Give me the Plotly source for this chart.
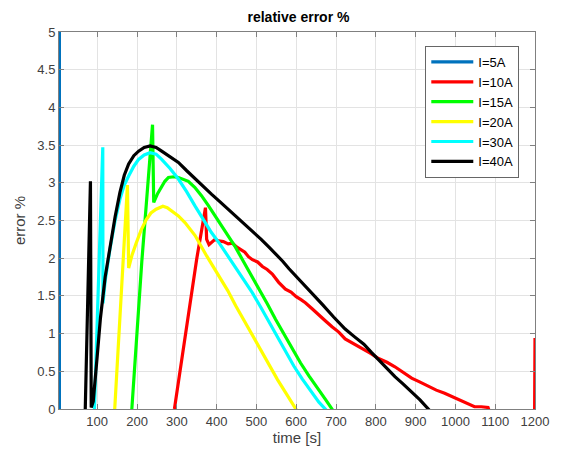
import plotly.graph_objects as go

# ---- data ----
t_5A = [5, 5]
e_5A = [-0.5, 6.0]

t_10A = [294, 320, 350, 372, 375, 381, 387, 396, 405, 417, 429, 440, 450, 460, 471, 480, 490, 503, 515, 527, 540,
         556, 573, 587, 600, 612, 623, 640, 657, 673, 690, 707, 723, 744, 765, 786, 807, 828, 848, 870, 890,
         910, 932, 952, 973, 994, 1015, 1032, 1048, 1065, 1082, 1090, 1199, 1200]
e_10A = [0, 0.93, 1.99, 2.67, 2.25, 2.18, 2.21, 2.25, 2.23, 2.22, 2.19, 2.20, 2.15, 2.12, 2.08, 2.02, 1.98, 1.95, 1.89, 1.85, 1.79,
         1.68, 1.59, 1.55, 1.49, 1.45, 1.41, 1.33, 1.24, 1.17, 1.09, 1.02, 0.93, 0.87, 0.80, 0.74, 0.67, 0.62, 0.56, 0.48, 0.41,
         0.36, 0.30, 0.25, 0.21, 0.16, 0.12, 0.07, 0.03, 0.03, 0.02, -0.1, -0.1, 0.94]

t_15A = [187, 212, 239, 242, 252, 262, 270, 279, 292, 304, 316, 329, 345, 362, 379, 396, 412, 429, 447, 465, 486, 507,
         528, 548, 569, 590, 611, 632, 652, 673, 690, 695]
e_15A = [0, 1.95, 3.77, 2.74, 2.86, 2.96, 3.02, 3.07, 3.08, 3.07, 3.05, 3.02, 2.94, 2.83, 2.70, 2.56, 2.43, 2.30, 2.15, 1.98, 1.79, 1.59,
         1.39, 1.19, 0.99, 0.79, 0.61, 0.44, 0.28, 0.13, 0, -0.05]

t_20A = [144, 176, 179, 188, 198, 210, 223, 235, 248, 265, 276, 287, 304, 321, 346, 375, 407, 428, 448, 469, 490, 511,
         532, 553, 573, 598, 605]
e_20A = [0, 2.97, 1.87, 2.05, 2.20, 2.37, 2.51, 2.60, 2.65, 2.69, 2.67, 2.63, 2.56, 2.47, 2.30, 2.03, 1.76, 1.57, 1.37, 1.17, 0.97, 0.77,
         0.57, 0.39, 0.22, 0, -0.05]

t_30A = [93, 114, 114.5, 120, 132, 145, 157, 168, 179, 192, 204, 218, 233, 248, 262, 283, 304, 325, 346, 366, 387, 408, 429,
         460, 490, 511, 532, 553, 573, 594, 615, 636, 657, 673, 680]
e_30A = [0, 3.47, 1.40, 1.70, 2.12, 2.50, 2.78, 2.97, 3.09, 3.22, 3.31, 3.37, 3.40, 3.38, 3.31, 3.19, 3.05, 2.88, 2.69, 2.52, 2.34, 2.19, 2.02,
         1.78, 1.54, 1.35, 1.15, 0.95, 0.75, 0.57, 0.40, 0.24, 0.09, 0, -0.05]

t_40A = [70, 83, 85, 90, 100, 108, 120, 132, 145, 157, 168, 179, 192, 204, 218, 233, 248, 262, 283, 304, 325, 346, 366, 387,
         408, 429, 450, 471, 492, 512, 531, 550, 566, 582, 598, 615, 640, 665, 694, 723, 746, 770, 789, 807, 828, 848,
         869, 890, 911, 932, 940]
e_40A = [0, 3.02, 0.02, 0.10, 0.70, 1.20, 1.75, 2.15, 2.55, 2.87, 3.10, 3.25, 3.36, 3.42, 3.47, 3.49, 3.47, 3.42, 3.35, 3.27, 3.16, 3.05, 2.95, 2.85,
         2.75, 2.65, 2.55, 2.45, 2.35, 2.25, 2.15, 2.05, 1.96, 1.86, 1.77, 1.68, 1.54, 1.39, 1.22, 1.06, 0.96, 0.86, 0.75, 0.65, 0.54, 0.43,
         0.33, 0.23, 0.12, 0, -0.05]

names = ["I=5A", "I=10A", "I=15A", "I=20A", "I=30A", "I=40A"]
colors = ["#0072BD", "#FF0000", "#00FF00", "#FFFF00", "#00FFFF", "#000000"]
series_t = [t_5A, t_10A, t_15A, t_20A, t_30A, t_40A]
series_e = [e_5A, e_10A, e_15A, e_20A, e_30A, e_40A]

x_ticks = list(range(100, 1201, 100))
y_ticks = [0, 0.5, 1, 1.5, 2, 2.5, 3, 3.5, 4, 4.5, 5]
y_tick_text = ["0", "0.5", "1", "1.5", "2", "2.5", "3", "3.5", "4", "4.5", "5"]

fig = go.Figure()
for n, c, tt, ee in zip(names, colors, series_t, series_e):
    fig.add_trace(go.Scatter(x=tt, y=ee, mode="lines", name=n,
                             line=dict(color=c, width=3.2)))

FONT = "Liberation Sans, Arial, sans-serif"
tick_font = dict(family=FONT, size=13, color="#404040")
label_font = dict(family=FONT, size=15, color="#404040")

fig.update_layout(
    width=561, height=455,
    margin=dict(l=59, r=23, t=32, b=45),
    paper_bgcolor="white", plot_bgcolor="white",
    font=dict(family=FONT, size=12, color="#262626"),
    title=dict(text="<b>relative error %</b>", x=0.532, xanchor="center",
               y=1 - 17 / 455, yanchor="middle",
               font=dict(family=FONT, size=14, color="#000000")),
    xaxis=dict(range=[4, 1200], tickvals=x_ticks, ticks="inside", ticklen=5,
               tickcolor="#808080", showline=True, linecolor="#808080", linewidth=1,
               mirror="ticks", showgrid=True, gridcolor="#e3e3e3", gridwidth=1,
               zeroline=False, tickfont=tick_font,
               title=dict(text="time [s]", font=label_font, standoff=4)),
    yaxis=dict(range=[0, 5], tickvals=y_ticks, ticktext=y_tick_text, ticks="inside", ticklen=5,
               tickcolor="#808080", showline=True, linecolor="#808080", linewidth=1,
               mirror="ticks", showgrid=True, gridcolor="#e3e3e3", gridwidth=1,
               zeroline=False, tickfont=tick_font,
               title=dict(text="error %", font=label_font, standoff=8)),
    legend=dict(x=0.967, xanchor="right", y=0.963, yanchor="top",
                bgcolor="white", bordercolor="#666666", borderwidth=1,
                font=dict(family=FONT, size=13, color="#000000"),
                itemwidth=42, tracegroupgap=0),
    showlegend=True,
)

fig.write_html("out.html")
